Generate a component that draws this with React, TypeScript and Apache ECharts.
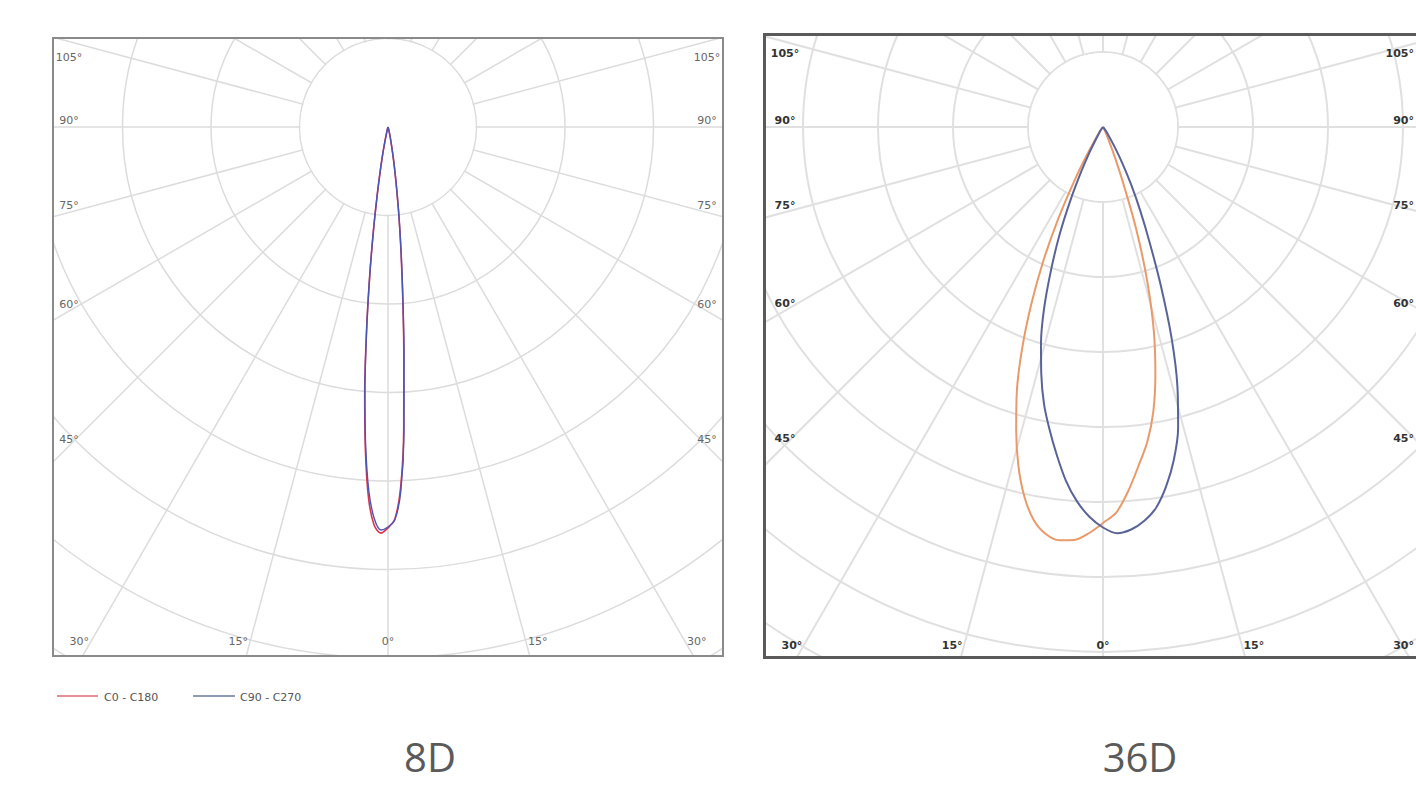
import React, { useEffect, useRef } from "react";
import * as echarts from "echarts";

// ---------------- DATA ----------------
// Gamma angles (deg from nadir) and luminous intensity (cd/klm) for each half plane.
// "Left" = half plane drawn on the left of the nadir, "Right" = drawn on the right.

// 8D beam
const gamma8Left = [0, 1, 2, 3, 4, 5, 6, 7, 8, 9, 10, 11, 12, 14, 16, 20];
const gamma8Right = [1, 2, 3, 4, 5, 6, 7, 8, 9, 10, 12, 14, 16, 20];
const c0c180_8D_Left = [22650, 22950, 22500, 21000, 18300, 15100, 11600, 8500, 5900, 3900, 2500, 1550, 830, 270, 100, 0];
const c0c180_8D_Right = [22150, 20400, 17000, 12800, 9500, 7000, 5050, 3480, 2350, 1570, 670, 270, 100, 0];
const c90c270_8D_Left = [22600, 22770, 22150, 20620, 18080, 14970, 11580, 8480, 5930, 3960, 2540, 1580, 850, 280, 110, 0];
const c90c270_8D_Right = [22200, 20620, 17230, 13000, 9610, 7060, 5090, 3500, 2370, 1580, 680, 280, 110, 0];

// 36D beam
const gamma36OrangeLeft = [0, 2, 4, 6, 8, 10, 12, 14, 16, 18, 20, 22, 24, 26, 28, 30, 35, 40, 50];
const c0c180_36D_Left = [2640, 2710, 2760, 2770, 2740, 2660, 2520, 2330, 2100, 1860, 1580, 1280, 980, 680, 410, 210, 50, 10, 0];
const gamma36OrangeRight = [2, 4, 6, 8, 10, 12, 14, 16, 18, 20, 22, 25, 30, 40];
const c0c180_36D_Right = [2570, 2430, 2270, 2120, 1930, 1680, 1400, 1070, 720, 370, 170, 50, 10, 0];

const gamma36BlueLeft = [2, 4, 6, 8, 10, 12, 14, 16, 18, 20, 22, 24, 26, 28, 30, 35, 40];
const c90c270_36D_Left = [2600, 2500, 2370, 2210, 2050, 1890, 1700, 1500, 1270, 1010, 770, 530, 330, 190, 90, 30, 0];
const gamma36BlueRight = [0, 2, 4, 6, 8, 10, 12, 14, 16, 18, 20, 22, 24, 26, 28, 30, 35, 40, 50];
const c90c270_36D_Right = [2670, 2710, 2690, 2640, 2560, 2430, 2270, 2070, 1800, 1480, 1130, 830, 610, 430, 280, 170, 50, 10, 0];

const sideTickLabels = [45, 60, 75, 90, 105];
const bottomTickLabels = [0, 15, 30];
const legendNames = ["C0 - C180", "C90 - C270"];
const titles = ["8D", "36D"];

const PAGE_W = 1416;

// ---------------- HELPERS ----------------
function buildLobe(la: number[], lv: number[], ra: number[], rv: number[]) {
  const pts: number[][] = [];
  for (let i = la.length - 1; i >= 0; i--) pts.push([lv[i], la[i]]);
  for (let i = 0; i < ra.length; i++) pts.push([rv[i], 360 - ra[i]]);
  return pts;
}

type PanelCfg = {
  left: number; top: number; width: number; height: number;
  cx: number; cy: number;
  step: number;
  circles: number;
  interval: number;
  border: string; borderWidth: number;
  gridColor: string; gridWidth: number;
  labelColor: string; labelWeight: string;
  insetX: number; insetY: number;
  series: { name: string; data: number[][]; color: string; width: number }[];
};

function makeLabels(p: PanelCfg) {
  const els: any[] = [];
  const font = "DejaVu Sans";
  const visibleMax = PAGE_W - p.left - 2;
  const addText = (x: number, y: number, t: string) => {
    let align = "center";
    let xx = x;
    if (x + 14 > visibleMax) { align = "right"; xx = visibleMax; }
    els.push({
      type: "text", z: 20, silent: true,
      x: xx, y,
      style: { text: t, fill: p.labelColor, font: `${p.labelWeight} 11px "${font}"`, align, verticalAlign: "middle" },
    });
  };
  const ix0 = p.insetX, ix1 = p.width - p.insetX;
  const iyTop = 20, iyBot = p.height - p.insetY;
  sideTickLabels.forEach((a) => {
    const rad = (a * Math.PI) / 180;
    const dxs = Math.sin(rad), dys = Math.cos(rad);
    const t = (p.cx - ix0) / Math.abs(dxs);
    let y = p.cy + t * dys - 7;
    y = Math.max(iyTop, Math.min(iyBot, y));
    addText(ix0, y, `${a}°`);
    addText(ix1, y, `${a}°`);
  });
  bottomTickLabels.forEach((a) => {
    const rad = (a * Math.PI) / 180;
    const dx = (iyBot - p.cy) * Math.tan(rad);
    const off = a === 0 ? 0 : dx + 12;
    const xl = Math.max(ix0 + 4, p.cx - off);
    const xr = Math.min(ix1 - 4, p.cx + off);
    addText(xl, iyBot, `${a}°`);
    if (a !== 0) addText(xr, iyBot, `${a}°`);
  });
  return els;
}

function panelOption(p: PanelCfg) {
  const R = p.step * p.circles;
  return {
    animation: false,
    polar: { center: [p.cx, p.cy], radius: R },
    angleAxis: {
      type: "value", min: 0, max: 360, interval: 15, startAngle: 270, clockwise: true, z: 0,
      axisLine: { show: false }, axisTick: { show: false }, axisLabel: { show: false },
      splitLine: { show: true, lineStyle: { color: p.gridColor, width: p.gridWidth } },
    },
    radiusAxis: {
      type: "value", min: 0, max: p.interval * p.circles, interval: p.interval, z: 0,
      axisLine: { show: false }, axisTick: { show: false }, axisLabel: { show: false },
      splitLine: { show: true, lineStyle: { color: p.gridColor, width: p.gridWidth } },
    },
    series: p.series.map((s) => ({
      name: s.name, type: "line", coordinateSystem: "polar", data: s.data,
      showSymbol: false, smooth: 0.3, z: 5, silent: true,
      lineStyle: { color: s.color, width: s.width },
    })),
    graphic: [
      { type: "circle", z: 1, silent: true, shape: { cx: p.cx, cy: p.cy, r: p.step - 1 }, style: { fill: "#fff" } },
      {
        type: "rect", z: 30, silent: true,
        shape: { x: p.borderWidth / 2, y: p.borderWidth / 2, width: p.width - p.borderWidth, height: p.height - p.borderWidth },
        style: { fill: "none", stroke: p.border, lineWidth: p.borderWidth },
      },
      ...makeLabels(p),
    ],
  };
}

const panel8: PanelCfg = {
  left: 52, top: 37, width: 672, height: 620,
  cx: 336, cy: 90, step: 88.5, circles: 8, interval: 5000,
  border: "#8a8a8a", borderWidth: 2, gridColor: "#dcdcdc", gridWidth: 1.5,
  labelColor: "#666", labelWeight: "normal", insetX: 17, insetY: 16,
  series: [
    { name: legendNames[0], data: buildLobe(gamma8Left, c0c180_8D_Left, gamma8Right, c0c180_8D_Right), color: "#d8344e", width: 1.6 },
    { name: legendNames[1], data: buildLobe(gamma8Left, c90c270_8D_Left, gamma8Right, c90c270_8D_Right), color: "#4a55b8", width: 1.4 },
  ],
};

const panel36: PanelCfg = {
  left: 763, top: 33, width: 680, height: 626,
  cx: 340, cy: 94, step: 75, circles: 10, interval: 500,
  border: "#5a5a5a", borderWidth: 3, gridColor: "#e0e0e0", gridWidth: 2,
  labelColor: "#333", labelWeight: "bold", insetX: 22, insetY: 14,
  series: [
    { name: legendNames[0], data: buildLobe(gamma36OrangeLeft, c0c180_36D_Left, gamma36OrangeRight, c0c180_36D_Right), color: "#e89a6a", width: 2 },
    { name: legendNames[1], data: buildLobe(gamma36BlueLeft, c90c270_36D_Left, gamma36BlueRight, c90c270_36D_Right), color: "#5a6398", width: 2 },
  ],
};

function useChart(ref: React.RefObject<HTMLDivElement | null>, option: any) {
  useEffect(() => {
    if (!ref.current) return;
    const chart = echarts.init(ref.current, undefined, { renderer: "svg" });
    chart.setOption(option);
    return () => chart.dispose();
  }, []);
}

function Panel({ p }: { p: PanelCfg }) {
  const ref = useRef<HTMLDivElement>(null);
  useChart(ref, panelOption(p));
  return <div ref={ref} style={{ position: "absolute", left: p.left, top: p.top, width: p.width, height: p.height }} />;
}

function Background() {
  const ref = useRef<HTMLDivElement>(null);
  const font = '"DejaVu Sans"';
  const titleStyle = { fill: "#5a5a5a", font: `40px "Open Sans"`, align: "center", verticalAlign: "middle", lineHeight: 40 };
  const option = {
    animation: false,
    graphic: [
      { type: "line", shape: { x1: 57, y1: 696, x2: 98, y2: 696 }, style: { stroke: "#e06a7a", lineWidth: 1.5 } },
      { type: "text", x: 104, y: 697, style: { text: legendNames[0], fill: "#555", font: `11px ${font}`, verticalAlign: "middle" } },
      { type: "line", shape: { x1: 193, y1: 696, x2: 235, y2: 696 }, style: { stroke: "#6a789e", lineWidth: 1.5 } },
      { type: "text", x: 240, y: 697, style: { text: legendNames[1], fill: "#555", font: `11px ${font}`, verticalAlign: "middle" } },
      { type: "text", x: 430, y: 756, style: { text: titles[0], ...titleStyle } },
      { type: "text", x: 1140, y: 756, style: { text: titles[1], ...titleStyle } },
    ],
  };
  useChart(ref, option);
  return <div ref={ref} style={{ position: "absolute", left: 0, top: 0, width: 1416, height: 786 }} />;
}

export default function App() {
  return (
    <div style={{ position: "fixed", left: 0, top: 0, width: 1416, height: 786, overflow: "hidden", background: "#fff" }}>
      <Background />
      <Panel p={panel8} />
      <Panel p={panel36} />
    </div>
  );
}
